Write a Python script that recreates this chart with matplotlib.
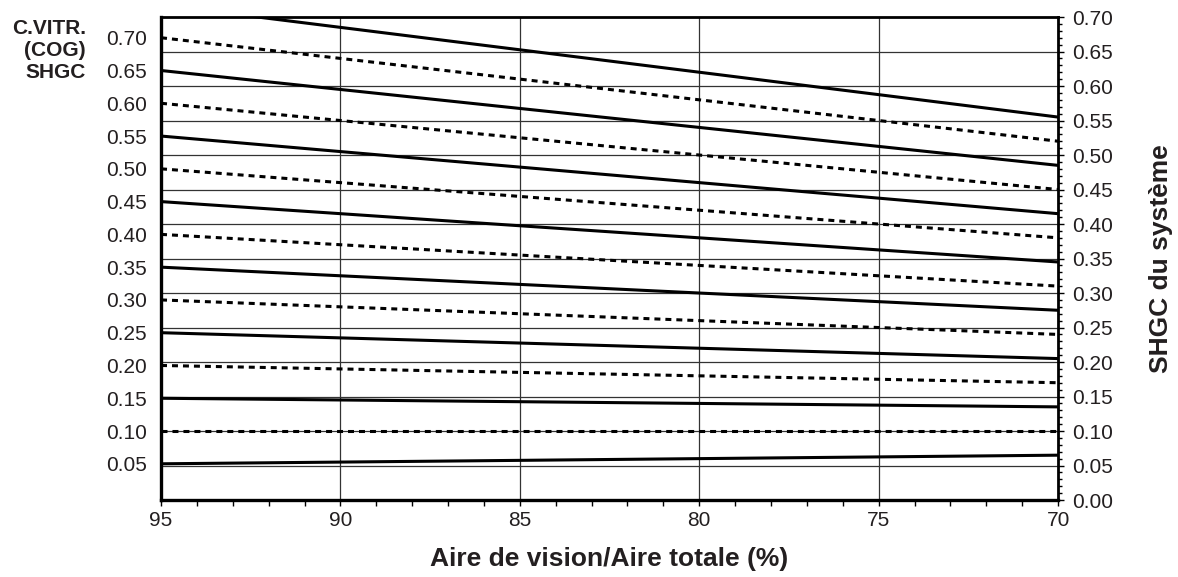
import matplotlib
matplotlib.use('Agg')
import matplotlib.pyplot as plt
from matplotlib.ticker import MultipleLocator

plt.rcParams['font.family'] = ['Liberation Sans', 'DejaVu Sans']
plt.rcParams['lines.scale_dashes'] = False

# vision area / total area (%)
vision_pct = [95, 70]

# centre-of-glass SHGC for each curve
cog_values = [0.05, 0.10, 0.15, 0.20, 0.25, 0.30, 0.35, 0.40,
              0.45, 0.50, 0.55, 0.60, 0.65, 0.70, 0.75]
# system SHGC at 95 % and at 70 % vision area
shgc_at_95 = [0.0525, 0.100, 0.1475, 0.195, 0.2425, 0.290, 0.3375, 0.385,
              0.4325, 0.480, 0.5275, 0.575, 0.6225, 0.670, 0.7175]
shgc_at_70 = [0.065, 0.100, 0.135, 0.170, 0.205, 0.240, 0.275, 0.310,
              0.345, 0.380, 0.415, 0.450, 0.485, 0.520, 0.555]

ink = '#231f20'

fig = plt.figure(figsize=(11.78, 5.77), dpi=100)
ax = fig.add_axes([0.1367, 0.1334, 0.7615, 0.8371])

for i, cog in enumerate(cog_values):
    style = '-' if i % 2 == 0 else (0, (4.3, 3.6))
    ax.plot(vision_pct, [shgc_at_95[i], shgc_at_70[i]], color='black',
            lw=2.2, linestyle=style, solid_capstyle='butt',
            dash_capstyle='butt', zorder=3)

ax.set_xlim(95, 70)
ax.set_ylim(0, 0.70)

# grid
for v in [0.05 * k for k in range(1, 14)]:
    ax.axhline(v, color='#333333', lw=0.9, zorder=1)
for x in [90, 85, 80, 75]:
    ax.axvline(x, color='#333333', lw=0.9, zorder=1)

# left axis: COG value written at the start of each curve
shown = [(s, c) for s, c in zip(shgc_at_95, cog_values) if s <= 0.70]
ax.set_yticks([s for s, c in shown], labels=['%.2f' % c for s, c in shown])
ax.tick_params(axis='y', length=0, pad=10, labelsize=15, labelcolor=ink)

ax.xaxis.set_major_locator(MultipleLocator(5))
ax.xaxis.set_minor_locator(MultipleLocator(1))
ax.set_xticks([95, 90, 85, 80, 75, 70], labels=['95', '90', '85', '80', '75', '70'])
ax.tick_params(axis='x', which='major', direction='out', length=4, width=1,
               pad=4, labelsize=15, labelcolor=ink)
ax.tick_params(axis='x', which='minor', direction='out', length=4, width=1)

for side in ['left', 'bottom']:
    ax.spines[side].set_linewidth(2.4)
for side in ['top', 'right']:
    ax.spines[side].set_linewidth(2.0)

# right axis: system SHGC
ax2 = ax.twinx()
ax2.set_ylim(0, 0.70)
ax2.yaxis.set_major_locator(MultipleLocator(0.05))
ax2.yaxis.set_minor_locator(MultipleLocator(0.01))
ax2.yaxis.set_major_formatter(matplotlib.ticker.FormatStrFormatter('%.2f'))
ax2.tick_params(axis='y', which='major', direction='out', length=4, width=1,
                pad=6, labelsize=15, labelcolor=ink)
ax2.tick_params(axis='y', which='minor', direction='out', length=3, width=1)
for sp in ax2.spines.values():
    sp.set_visible(False)
ax2.set_ylabel('SHGC du système', fontsize=19, fontweight='bold',
               color=ink, labelpad=26)

ax.set_xlabel('Aire de vision/Aire totale (%)', fontsize=19,
              fontweight='bold', color=ink, labelpad=12)

fig.text(0.073, 0.967, 'C.VITR.\n(COG)\nSHGC', ha='right', va='top',
         fontsize=15, fontweight='bold', color=ink, linespacing=1.2)

fig.savefig('out.png', dpi=100)
